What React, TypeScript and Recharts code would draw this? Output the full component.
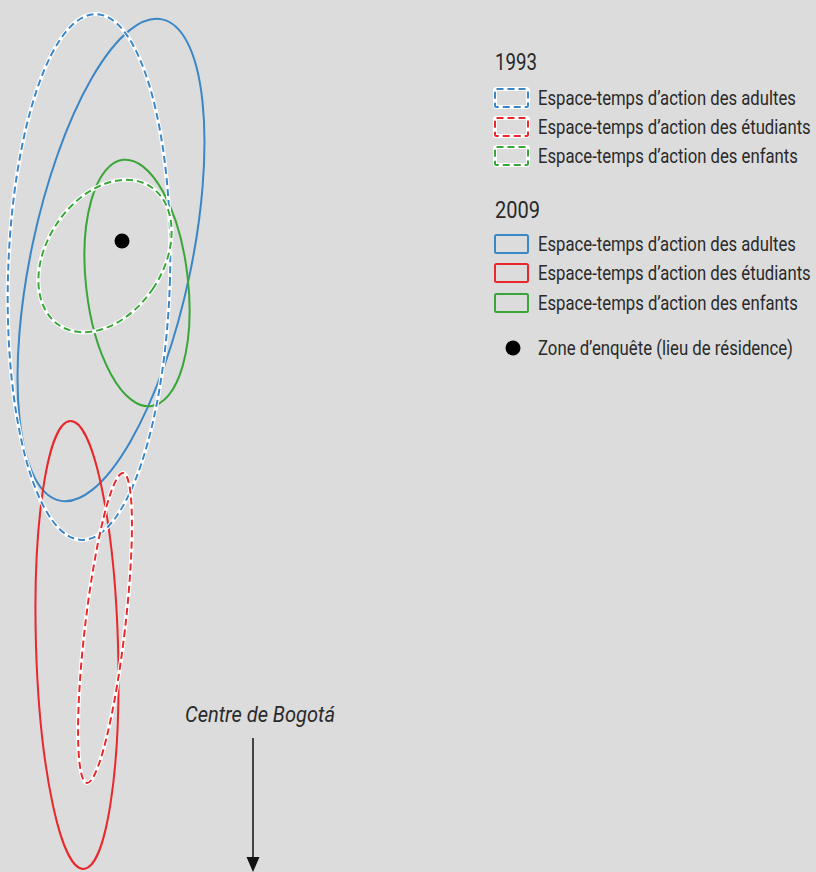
import React from "react";
import {
  ScatterChart,
  Scatter,
  XAxis,
  YAxis,
  ReferenceLine,
  ReferenceDot,
} from "recharts";

// Map frame in picture units (1 unit = 1 px)
const W = 816;
const H = 872;
const BG = "#dcdcdc";
const INK = "#2a2a2a";
const FONT = "Roboto, 'DejaVu Sans', sans-serif";

const GROUPS = ["adultes", "étudiants", "enfants"];
const GROUP_COLORS = ["#3a86c6", "#e8282b", "#3aa63a"];
// rendered widths of the legend labels in the reference (condensed face)
const LABEL_WIDTHS = [258, 273, 260];

// 1993 — action space ellipses (centre, semi-axes, tilt in degrees)
const CX_1993 = [89, 105, 105];
const CY_1993 = [277, 628, 256];
const MAJOR_1993 = [263, 156, 83];
const MINOR_1993 = [81, 20, 58];
const TILT_1993 = [1.6, 6.7, 33.5];

// 2009
const CX_2009 = [111, 77, 137];
const CY_2009 = [260, 645, 283];
const MAJOR_2009 = [246, 224, 124];
const MINOR_2009 = [80, 41, 51];
const TILT_2009 = [12, -1.7, -6.4];

const SURVEY_ZONE = [{ x: 122, y: 241 }];
const CENTRE_LABEL = "Centre de Bogotá";
const CENTRE_POINT = { x: 260, y: 722 };
const ARROW = { x: 253, y1: 738, y2: 872 };

const YEARS = ["1993", "2009"];

type EllipseRow = {
  x: number;
  y: number;
  major: number;
  minor: number;
  tilt: number;
  color: string;
  dashed: boolean;
};

function buildRows(cx: number[], cy: number[], major: number[], minor: number[], tilt: number[], dashed: boolean): EllipseRow[] {
  return GROUPS.map((_, i) => ({
    x: cx[i],
    y: cy[i],
    major: major[i],
    minor: minor[i],
    tilt: tilt[i],
    color: GROUP_COLORS[i],
    dashed,
  }));
}

const rows1993 = buildRows(CX_1993, CY_1993, MAJOR_1993, MINOR_1993, TILT_1993, true);
const rows2009 = buildRows(CX_2009, CY_2009, MAJOR_2009, MINOR_2009, TILT_2009, false);

const PX_PER_UNIT = 1;

// squeeze factor so a label in Roboto takes the width of the condensed original
let measureCtx: CanvasRenderingContext2D | null = null;
function squeeze(text: string, size: number, width: number, style = "normal"): number {
  if (!measureCtx) measureCtx = document.createElement("canvas").getContext("2d");
  if (!measureCtx) return 1;
  measureCtx.font = `${style} ${size}px Roboto`;
  const natural = measureCtx.measureText(text).width;
  return natural > 0 ? Math.min(1, width / natural) : 1;
}

function FitText({ x, y, text, size, width, anchor = "start", italic = false }: {
  x: number; y: number; text: string; size: number; width: number; anchor?: "start" | "middle"; italic?: boolean;
}) {
  const k = squeeze(text, size, width, italic ? "italic" : "normal");
  return (
    <text transform={`translate(${x},${y}) scale(${k},1)`} textAnchor={anchor} fontFamily={FONT}
      fontStyle={italic ? "italic" : "normal"} fontSize={size} fill={INK}>
      {text}
    </text>
  );
}

function EllipseShape(props: any) {
  const { cx, cy, payload } = props;
  if (cx == null || cy == null || !payload) return null;
  const rx = payload.minor * PX_PER_UNIT;
  const ry = payload.major * PX_PER_UNIT;
  const transform = `rotate(${payload.tilt} ${cx} ${cy})`;
  if (payload.dashed) {
    return (
      <g>
        <ellipse cx={cx} cy={cy} rx={rx} ry={ry} transform={transform} fill="none" stroke="#ffffff" strokeWidth={4} />
        <ellipse cx={cx} cy={cy} rx={rx} ry={ry} transform={transform} fill="none" stroke={payload.color}
          strokeWidth={2} strokeDasharray="7 4" />
      </g>
    );
  }
  return <ellipse cx={cx} cy={cy} rx={rx} ry={ry} transform={transform} fill="none" stroke={payload.color} strokeWidth={2} />;
}

function DotShape(props: any) {
  const { cx, cy } = props;
  return <circle cx={cx} cy={cy} r={7.5} fill="#000" />;
}

function ArrowHead(props: any) {
  const { cx, cy } = props;
  return <path d={`M${cx - 6.5},${cy - 15} L${cx + 6.5},${cy - 15} L${cx},${cy} Z`} fill="#111" />;
}

function CentreLabel(props: any) {
  const { cx, cy } = props;
  return <FitText x={cx} y={cy} text={CENTRE_LABEL} size={22} width={150} anchor="middle" italic />;
}

function LegendBox({ y, color, dashed }: { y: number; color: string; dashed: boolean }) {
  if (dashed) {
    return (
      <g>
        <rect x={495} y={y} width={33} height={18} rx={1.5} fill="none" stroke="#fff" strokeWidth={4} />
        <rect x={495} y={y} width={33} height={18} rx={1.5} fill="none" stroke={color} strokeWidth={2}
          strokeDasharray="7 4" />
      </g>
    );
  }
  return <rect x={495} y={y} width={33} height={18} rx={1.5} fill="none" stroke={color} strokeWidth={2} />;
}

function LegendPanel() {
  const blocks = [
    { year: YEARS[0], titleY: 70, titleW: 42, rowY: [89, 118, 147], dashed: true },
    { year: YEARS[1], titleY: 218, titleW: 45, rowY: [235, 264, 294], dashed: false },
  ];
  return (
    <svg width={W} height={H} style={{ position: "absolute", left: 0, top: 0, pointerEvents: "none" }}>
      {blocks.map((b) => (
        <g key={b.year}>
          <FitText x={495} y={b.titleY} text={b.year} size={24} width={b.titleW} />
          {GROUPS.map((g, i) => (
            <g key={g}>
              <LegendBox y={b.rowY[i]} color={GROUP_COLORS[i]} dashed={b.dashed} />
              <FitText x={538} y={b.rowY[i] + 16} text={`Espace-temps d’action des ${g}`} size={20}
                width={LABEL_WIDTHS[i]} />
            </g>
          ))}
        </g>
      ))}
      <circle cx={513} cy={348} r={7.5} fill="#000" />
      <FitText x={538} y={355} text="Zone d’enquête (lieu de résidence)" size={20} width={255} />
    </svg>
  );
}

export default function App() {
  return (
    <div style={{ position: "absolute", left: 0, top: 0, width: W, height: H, background: BG, overflow: "hidden" }}>
      <ScatterChart width={W} height={H} margin={{ top: 0, right: 0, bottom: 0, left: 0 }}>
        <XAxis type="number" dataKey="x" domain={[0, W]} hide allowDataOverflow />
        <YAxis type="number" dataKey="y" domain={[0, H]} reversed hide allowDataOverflow />
        <Scatter data={rows2009} shape={EllipseShape} isAnimationActive={false} />
        <Scatter data={rows1993} shape={EllipseShape} isAnimationActive={false} />
        <Scatter data={SURVEY_ZONE} shape={DotShape} isAnimationActive={false} />
        <ReferenceLine
          segment={[{ x: ARROW.x, y: ARROW.y1 }, { x: ARROW.x, y: ARROW.y2 - 12 }]}
          stroke="#111"
          strokeWidth={1.5}
          ifOverflow="visible"
        />
        <ReferenceDot x={ARROW.x} y={ARROW.y2} shape={ArrowHead} ifOverflow="visible" />
        <ReferenceDot x={CENTRE_POINT.x} y={CENTRE_POINT.y} shape={CentreLabel} ifOverflow="visible" />
      </ScatterChart>
      <LegendPanel />
    </div>
  );
}
